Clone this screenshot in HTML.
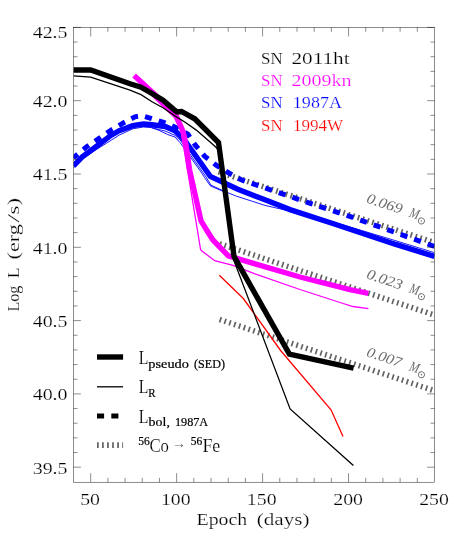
<!DOCTYPE html>
<html><head><meta charset="utf-8"><title>SN 2011ht luminosity</title>
<style>html,body{margin:0;padding:0;background:#fff}svg{display:block;will-change:transform}text{font-family:"Liberation Serif",serif;white-space:pre}</style></head><body>
<svg width="457" height="548" viewBox="0 0 457 548">
<rect width="457" height="548" fill="#fff"/>
<defs><clipPath id="c"><rect x="73.5" y="27.4" width="361.0" height="454.8"/></clipPath></defs>
<g clip-path="url(#c)" fill="none" stroke-linejoin="miter">
<polyline points="218.5,171.9 434.5,242.6" stroke="#626262" stroke-width="5.6" stroke-dasharray="1.7 3.35"/>
<polyline points="219.6,243.8 434.5,315.1" stroke="#626262" stroke-width="5.6" stroke-dasharray="1.7 3.35"/>
<polyline points="219.6,319.5 434.5,390.8" stroke="#626262" stroke-width="5.6" stroke-dasharray="1.7 3.35"/>
<polyline points="73.5,165.8 82.0,157.0 91.9,149.8 110.9,135.4 119.2,130.7 132.8,125.6 143.3,124.0 150.0,124.5 165.1,126.5 175.0,130.8 180.0,135.5 185.1,140.9 210.3,176.4 237.8,189.3 265.0,199.8 290.0,209.6 332.0,223.2 395.0,244.2 434.5,256.4" stroke="#0000ff" stroke-width="5.4"/>
<polyline points="73.5,168.0 82.0,159.4 91.9,152.4 110.9,140.4 119.2,135.1 132.8,128.8 143.3,127.0 151.4,127.6 159.1,129.6 165.1,131.0 175.0,135.3 181.0,141.0 189.3,153.3 203.3,173.0 206.0,177.0 211.0,185.2 225.0,191.6 236.5,196.2 265.0,205.4 301.0,213.7 332.0,221.6 395.0,240.5 434.5,252.7" stroke="#0000ff" stroke-width="0.9"/>
<polyline points="151.4,127.6 159.1,130.4 167.8,134.6 175.0,137.0 180.0,142.5 187.7,153.3 201.7,173.0 204.5,177.5 210.4,185.9 225.0,192.2" stroke="#0000ff" stroke-width="0.9"/>
<polyline points="73.5,157.9 75.5,156.2 86.4,146.9 98.7,138.7 110.5,130.5 123.0,123.1 135.0,116.8 142.0,115.7 149.2,117.8 163.6,122.4 174.8,127.0 187.9,134.2 195.5,145.4 204.6,156.2 216.5,165.4 228.8,173.0 241.2,179.8 309.5,203.1 350.5,216.6 431.9,245.5 434.5,246.4" stroke="#0000ff" stroke-width="5" stroke-dasharray="7.1 7.22" stroke-dashoffset="1.5"/>
<polyline points="134.1,75.4 155.0,94.6 176.0,115.6 182.9,131.0 186.0,145.0 189.6,170.0 201.0,220.8 206.6,230.0 212.7,239.7 228.3,255.8 255.0,263.8 300.0,277.0 350.0,289.7 368.4,293.3" stroke="#ff00ff" stroke-width="5.4"/>
<polyline points="135.0,78.6 154.5,98.2 174.5,117.5 181.0,131.0 189.8,184.0 200.6,249.5 201.3,250.6 214.7,260.7 233.0,265.3 255.0,273.8 300.0,289.5 340.0,302.5 353.0,306.5 368.4,308.6" stroke="#ff00ff" stroke-width="1.3"/>
<polyline points="219.3,275.3 243.3,298.5 280.6,350.5 331.0,409.8 343.0,436.5" stroke="#ff0000" stroke-width="1.3"/>
<polyline points="73.5,75.9 90.7,77.1 130.0,90.2 141.0,94.6 152.0,101.7 163.0,107.7 174.0,115.4 185.5,122.5 196.3,130.1 215.5,146.8 218.5,150.0 233.0,258.0 290.1,408.9 353.4,465.4" stroke="#000" stroke-width="1.3"/>
<polyline points="73.5,70.0 90.7,70.0 130.0,83.7 141.0,87.2 152.0,93.5 163.0,100.3 174.0,109.6 177.0,112.0 181.5,111.5 194.7,118.8 205.0,129.0 218.5,142.5 234.0,256.3 289.4,354.2 353.6,368.1" stroke="#000" stroke-width="5.4"/>
</g>
<g stroke="#000" stroke-width="0.45" fill="none">
<rect x="73.5" y="27.4" width="361.0" height="454.8"/>
<path d="M90.69 27.4v9M90.69 482.2v-9M107.88 27.4v4.4M107.88 482.2v-4.4M125.07 27.4v4.4M125.07 482.2v-4.4M142.26 27.4v4.4M142.26 482.2v-4.4M159.45 27.4v4.4M159.45 482.2v-4.4M176.64 27.4v9M176.64 482.2v-9M193.83 27.4v4.4M193.83 482.2v-4.4M211.02 27.4v4.4M211.02 482.2v-4.4M228.21 27.4v4.4M228.21 482.2v-4.4M245.40 27.4v4.4M245.40 482.2v-4.4M262.59 27.4v9M262.59 482.2v-9M279.78 27.4v4.4M279.78 482.2v-4.4M296.97 27.4v4.4M296.97 482.2v-4.4M314.16 27.4v4.4M314.16 482.2v-4.4M331.35 27.4v4.4M331.35 482.2v-4.4M348.54 27.4v9M348.54 482.2v-9M365.73 27.4v4.4M365.73 482.2v-4.4M382.92 27.4v4.4M382.92 482.2v-4.4M400.11 27.4v4.4M400.11 482.2v-4.4M417.30 27.4v4.4M417.30 482.2v-4.4M73.5 467.20h7.4M434.5 467.20h-7.4M73.5 452.54h4.0M434.5 452.54h-4.0M73.5 437.88h4.0M434.5 437.88h-4.0M73.5 423.22h4.0M434.5 423.22h-4.0M73.5 408.56h4.0M434.5 408.56h-4.0M73.5 393.90h7.4M434.5 393.90h-7.4M73.5 379.24h4.0M434.5 379.24h-4.0M73.5 364.58h4.0M434.5 364.58h-4.0M73.5 349.92h4.0M434.5 349.92h-4.0M73.5 335.26h4.0M434.5 335.26h-4.0M73.5 320.60h7.4M434.5 320.60h-7.4M73.5 305.94h4.0M434.5 305.94h-4.0M73.5 291.28h4.0M434.5 291.28h-4.0M73.5 276.62h4.0M434.5 276.62h-4.0M73.5 261.96h4.0M434.5 261.96h-4.0M73.5 247.30h7.4M434.5 247.30h-7.4M73.5 232.64h4.0M434.5 232.64h-4.0M73.5 217.98h4.0M434.5 217.98h-4.0M73.5 203.32h4.0M434.5 203.32h-4.0M73.5 188.66h4.0M434.5 188.66h-4.0M73.5 174.00h7.4M434.5 174.00h-7.4M73.5 159.34h4.0M434.5 159.34h-4.0M73.5 144.68h4.0M434.5 144.68h-4.0M73.5 130.02h4.0M434.5 130.02h-4.0M73.5 115.36h4.0M434.5 115.36h-4.0M73.5 100.70h7.4M434.5 100.70h-7.4M73.5 86.04h4.0M434.5 86.04h-4.0M73.5 71.38h4.0M434.5 71.38h-4.0M73.5 56.72h4.0M434.5 56.72h-4.0M73.5 42.06h4.0M434.5 42.06h-4.0M73.5 27.40h7.4M434.5 27.40h-7.4"/>
</g>
<g stroke="#fff" stroke-width="0.2">
<text fill="#000"><tspan x="32.70" y="473.60" font-size="16.7" textLength="34.84" lengthAdjust="spacingAndGlyphs">39.5</tspan></text>
<text fill="#000"><tspan x="32.70" y="400.30" font-size="16.7" textLength="34.84" lengthAdjust="spacingAndGlyphs">40.0</tspan></text>
<text fill="#000"><tspan x="32.70" y="327.00" font-size="16.7" textLength="34.84" lengthAdjust="spacingAndGlyphs">40.5</tspan></text>
<text fill="#000"><tspan x="32.70" y="253.70" font-size="16.7" textLength="34.84" lengthAdjust="spacingAndGlyphs">41.0</tspan></text>
<text fill="#000"><tspan x="32.70" y="180.40" font-size="16.7" textLength="34.84" lengthAdjust="spacingAndGlyphs">41.5</tspan></text>
<text fill="#000"><tspan x="32.70" y="107.10" font-size="16.7" textLength="34.84" lengthAdjust="spacingAndGlyphs">42.0</tspan></text>
<text fill="#000"><tspan x="32.70" y="38.30" font-size="16.7" textLength="34.84" lengthAdjust="spacingAndGlyphs">42.5</tspan></text>
<text fill="#000"><tspan x="80.20" y="504.90" font-size="16.7" textLength="19.79" lengthAdjust="spacingAndGlyphs">50</tspan></text>
<text fill="#000"><tspan x="160.90" y="504.90" font-size="16.7" textLength="29.68" lengthAdjust="spacingAndGlyphs">100</tspan></text>
<text fill="#000"><tspan x="246.85" y="504.90" font-size="16.7" textLength="29.68" lengthAdjust="spacingAndGlyphs">150</tspan></text>
<text fill="#000"><tspan x="333.25" y="504.90" font-size="16.7" textLength="29.68" lengthAdjust="spacingAndGlyphs">200</tspan></text>
<text fill="#000"><tspan x="419.20" y="504.90" font-size="16.7" textLength="29.68" lengthAdjust="spacingAndGlyphs">250</tspan></text>
<text fill="#000"><tspan x="196.56" y="524.90" font-size="16.3" textLength="50.59" lengthAdjust="spacingAndGlyphs">Epoch</tspan> <tspan x="256.80" y="524.90" font-size="16.3" textLength="52.73" lengthAdjust="spacingAndGlyphs">(days)</tspan></text>
<text fill="#000" transform="rotate(-90)"><tspan x="-311.54" y="18.80" font-size="16.3" textLength="25.94" lengthAdjust="spacingAndGlyphs">Log</tspan> <tspan x="-278.29" y="18.80" font-size="16.3" textLength="10.94" lengthAdjust="spacingAndGlyphs">L</tspan> <tspan x="-259.44" y="18.80" font-size="16.3" textLength="35.21" lengthAdjust="spacingAndGlyphs">(erg</tspan><tspan x="-222.80" y="18.80" font-size="16.3" textLength="8.91" lengthAdjust="spacingAndGlyphs">/</tspan><tspan x="-214.52" y="18.80" font-size="16.3" textLength="16.59" lengthAdjust="spacingAndGlyphs">s)</tspan></text>
<text fill="#000"><tspan x="261.06" y="63.60" font-size="16.3" textLength="21.64" lengthAdjust="spacingAndGlyphs">SN</tspan> <tspan x="291.50" y="63.60" font-size="16.3" textLength="58.12" lengthAdjust="spacingAndGlyphs">2011ht</tspan></text>
<text fill="#ff00ff"><tspan x="261.06" y="86.10" font-size="16.3" textLength="21.64" lengthAdjust="spacingAndGlyphs">SN</tspan> <tspan x="291.55" y="86.10" font-size="16.3" textLength="60.05" lengthAdjust="spacingAndGlyphs">2009kn</tspan></text>
<text fill="#0000ff"><tspan x="261.06" y="107.90" font-size="16.3" textLength="21.64" lengthAdjust="spacingAndGlyphs">SN</tspan> <tspan x="292.82" y="107.90" font-size="16.3" textLength="49.21" lengthAdjust="spacingAndGlyphs">1987A</tspan></text>
<text fill="#ff0000"><tspan x="261.06" y="130.50" font-size="16.3" textLength="21.64" lengthAdjust="spacingAndGlyphs">SN</tspan> <tspan x="292.90" y="130.50" font-size="16.3" textLength="50.32" lengthAdjust="spacingAndGlyphs">1994W</tspan></text>
<text fill="#6c6c6c" transform="translate(366.4 202.5) rotate(18.4)" stroke="none"><tspan x="-0.61" y="0.00" font-size="14.5" textLength="36.66" lengthAdjust="spacingAndGlyphs" font-style="italic">0.069</tspan> <tspan x="44.44" y="0.00" font-size="14.5" textLength="9.61" lengthAdjust="spacingAndGlyphs" font-style="italic">M</tspan> <tspan x="53.4" y="3.55" font-size="11" font-family="DejaVu Serif,DejaVu Sans,serif">&#x2299;</tspan></text>
<text fill="#6c6c6c" transform="translate(366.4 278.3) rotate(18.4)" stroke="none"><tspan x="-0.62" y="0.00" font-size="14.5" textLength="36.99" lengthAdjust="spacingAndGlyphs" font-style="italic">0.023</tspan> <tspan x="44.44" y="0.00" font-size="14.5" textLength="9.61" lengthAdjust="spacingAndGlyphs" font-style="italic">M</tspan> <tspan x="53.4" y="3.55" font-size="11" font-family="DejaVu Serif,DejaVu Sans,serif">&#x2299;</tspan></text>
<text fill="#6c6c6c" transform="translate(366.4 356.2) rotate(18.4)" stroke="none"><tspan x="-0.60" y="0.00" font-size="14.5" textLength="35.84" lengthAdjust="spacingAndGlyphs" font-style="italic">0.007</tspan> <tspan x="44.44" y="0.00" font-size="14.5" textLength="9.61" lengthAdjust="spacingAndGlyphs" font-style="italic">M</tspan> <tspan x="53.4" y="3.55" font-size="11" font-family="DejaVu Serif,DejaVu Sans,serif">&#x2299;</tspan></text>
<text fill="#000"><tspan x="138.77" y="363.60" font-size="18.6" textLength="9.66" lengthAdjust="spacingAndGlyphs">L</tspan> <tspan x="148.39" y="367.80" font-size="11.8" textLength="40.56" lengthAdjust="spacingAndGlyphs" stroke="#000" stroke-width="0.2">pseudo</tspan> <tspan x="194.09" y="367.80" font-size="11.8" textLength="30.93" lengthAdjust="spacingAndGlyphs" stroke="#000" stroke-width="0.2">(SED)</tspan></text>
<text fill="#000"><tspan x="138.77" y="393.20" font-size="18.6" textLength="9.66" lengthAdjust="spacingAndGlyphs">L</tspan> <tspan x="148.30" y="397.30" font-size="11.8" textLength="7.32" lengthAdjust="spacingAndGlyphs" stroke="#000" stroke-width="0.2">R</tspan></text>
<text fill="#000"><tspan x="138.77" y="422.50" font-size="18.6" textLength="9.66" lengthAdjust="spacingAndGlyphs">L</tspan> <tspan x="148.60" y="426.30" font-size="11.8" textLength="21.28" lengthAdjust="spacingAndGlyphs" stroke="#000" stroke-width="0.2">bol,</tspan> <tspan x="174.93" y="426.30" font-size="11.8" textLength="33.26" lengthAdjust="spacingAndGlyphs" stroke="#000" stroke-width="0.2">1987A</tspan></text>
<text fill="#000"><tspan x="138.14" y="444.90" font-size="11.8" textLength="11.51" lengthAdjust="spacingAndGlyphs" stroke="#000" stroke-width="0.2">56</tspan><tspan x="149.43" y="451.90" font-size="18.6" textLength="19.49" lengthAdjust="spacingAndGlyphs">Co</tspan> <tspan x="172.0" y="448.0" font-size="15" fill="#6c6c6c" stroke="none" textLength="14" lengthAdjust="spacingAndGlyphs">&#x2192;</tspan> <tspan x="190.64" y="444.90" font-size="11.8" textLength="11.51" lengthAdjust="spacingAndGlyphs" stroke="#000" stroke-width="0.2">56</tspan><tspan x="202.41" y="451.90" font-size="18.6" textLength="17.92" lengthAdjust="spacingAndGlyphs">Fe</tspan></text>
</g>
<g fill="none">
<path d="M97 357.0H123.1" stroke="#000" stroke-width="5.4"/>
<path d="M97 386.8H123.1" stroke="#000" stroke-width="1.3"/>
<path d="M97 415.9H123.1" stroke="#000" stroke-width="5" stroke-dasharray="7.1 7.22"/>
<path d="M97 445.1H123.1" stroke="#626262" stroke-width="5.6" stroke-dasharray="1.7 3.35"/>
</g>
</svg></body></html>
